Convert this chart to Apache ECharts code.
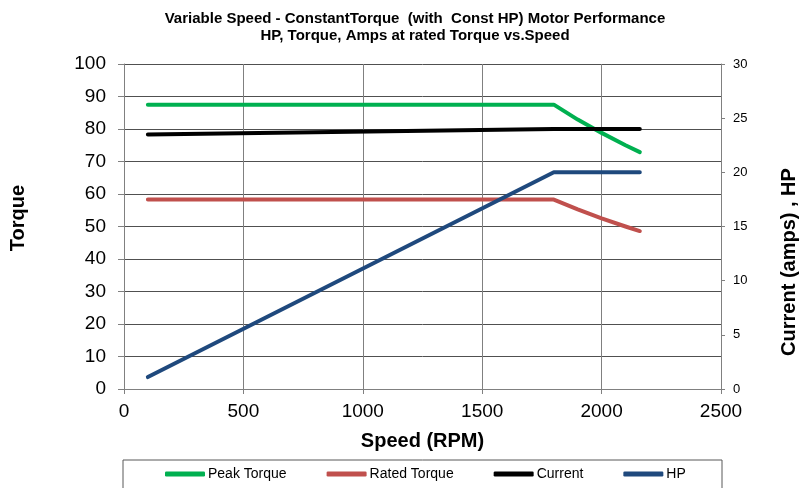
<!DOCTYPE html>
<html>
<head>
<meta charset="utf-8">
<script src="https://cdn.jsdelivr.net/npm/echarts@6/dist/echarts.min.js"></script>
<style>
  html, body { margin: 0; padding: 0; background: #fff; }
  #chart { width: 811px; height: 488px; }
</style>
</head>
<body>
<div id="chart"></div>
<script>
// speed points (rpm) and the values
var speed = [100, 1800, 1900, 2000, 2100, 2160];
var peakTorque = [87.5, 87.5, 82.9, 78.8, 75.0, 72.9];
var ratedTorque = [58.3, 58.3, 55.3, 52.5, 50.0, 48.6];
var current = [23.5, 24.0, 24.0, 24.0, 24.0, 24.0];   // right axis
var hp = [1.1, 20, 20, 20, 20, 20];                    // right axis

var seriesNames = ['Peak Torque', 'Rated Torque', 'Current', 'HP'];
var seriesColors = ['#00b050', '#c0504d', '#000000', '#1f497d'];

var FONT = 'Arial, "Liberation Sans", sans-serif';

function pairs(vals) {
  var out = [];
  for (var i = 0; i < speed.length; i++) out.push([speed[i], vals[i]]);
  return out;
}

function mkSeries(idx, vals, axis) {
  return {
    name: seriesNames[idx],
    type: 'line',
    yAxisIndex: axis,
    data: pairs(vals),
    symbol: 'none',
    lineStyle: { width: 4, color: seriesColors[idx], cap: 'round', join: 'round' },
    itemStyle: { color: seriesColors[idx] },
    animation: false
  };
}

var chart = echarts.init(document.getElementById('chart'));

var option = {
  backgroundColor: '#fff',
  animation: false,
  title: {
    text: 'Variable Speed - ConstantTorque  (with  Const HP) Motor Performance\nHP, Torque, Amps at rated Torque vs.Speed',
    left: 410,
    top: 5,
    textAlign: 'center',
    textStyle: { fontFamily: FONT, fontSize: 15, fontWeight: 'bold', color: '#000', lineHeight: 17 }
  },
  grid: { left: 124, right: 90, top: 64, bottom: 99 },
  legend: {
    data: seriesNames,
    left: 160,
    top: 462,
    itemWidth: 40,
    itemHeight: 5,
    itemGap: 40,
    icon: 'roundRect',
    textStyle: { fontFamily: FONT, fontSize: 14, color: '#000', padding: [0, 0, 0, -2] }
  },
  xAxis: {
    type: 'value',
    min: 0, max: 2500, interval: 500,
    name: 'Speed (RPM)',
    nameLocation: 'middle',
    nameGap: 42,
    nameTextStyle: { fontFamily: FONT, fontSize: 20, fontWeight: 'bold', color: '#000' },
    axisLine: { lineStyle: { color: '#808080', width: 1 } },
    axisTick: { show: true, length: 5, lineStyle: { color: '#808080' } },
    axisLabel: { fontFamily: FONT, fontSize: 19, color: '#000', margin: 13, formatter: function (v) { return String(v); } },
    splitLine: { show: true, lineStyle: { color: '#808080', width: 1 } }
  },
  yAxis: [
    {
      type: 'value',
      min: 0, max: 100, interval: 10,
      axisLine: { show: true, lineStyle: { color: '#808080', width: 1 } },
      axisTick: { show: true, length: 6, lineStyle: { color: '#808080' } },
      axisLabel: { fontFamily: FONT, fontSize: 19, color: '#000', margin: 18 },
      splitLine: { show: true, lineStyle: { color: '#505050', width: 1 } }
    },
    {
      type: 'value',
      position: 'right',
      min: 0, max: 30, interval: 5,
      axisLine: { show: true, lineStyle: { color: '#808080', width: 1 } },
      axisTick: { show: true, length: 4, lineStyle: { color: '#808080' } },
      axisLabel: { fontFamily: FONT, fontSize: 13, color: '#000', margin: 12 },
      splitLine: { show: false }
    }
  ],
  graphic: [
    {
      type: 'text', x: 18, y: 218, rotation: Math.PI / 2,
      style: { text: 'Torque', fontFamily: FONT, fontSize: 20, fontWeight: 'bold', fill: '#000', align: 'center', verticalAlign: 'middle' }
    },
    {
      type: 'text', x: 789, y: 262, rotation: Math.PI / 2,
      style: { text: 'Current (amps) , HP', fontFamily: FONT, fontSize: 20, fontWeight: 'bold', fill: '#000', align: 'center', verticalAlign: 'middle' }
    },
    {
      type: 'rect', shape: { x: 123, y: 460, width: 599, height: 40 },
      style: { fill: 'none', stroke: '#595959', lineWidth: 1 }, z: -1
    }
  ],
  series: [
    mkSeries(0, peakTorque, 0),
    mkSeries(1, ratedTorque, 0),
    mkSeries(2, current, 1),
    mkSeries(3, hp, 1)
  ]
};

chart.setOption(option);
</script>
</body>
</html>
